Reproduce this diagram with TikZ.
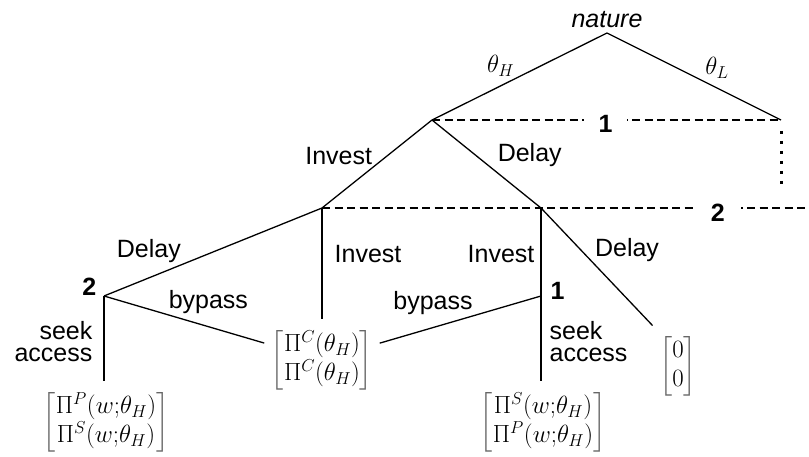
\documentclass[tikz,border=0pt]{standalone}
\usepackage{amsmath}
\usepackage[no-math]{fontspec}
\setmainfont{Liberation Sans}
\usepackage{tikz}
\usetikzlibrary{positioning}

\newcommand{\payoff}[2]{$\color{black!60}\left[\color{black}\begin{matrix}#1\\#2\end{matrix}\color{black!60}\right]$}

\begin{document}
\begin{tikzpicture}[x=1pt, y=-1pt, font=\fontsize{25}{22}\selectfont, line width=1.3pt,
		player/.style={font=\fontsize{25}{22}\selectfont\bfseries},
		infoset/.style={line width=2pt, dash pattern=on 8pt off 4.5pt},
		dots/.style={line width=3pt, dash pattern=on 3pt off 7pt, shorten <=11pt},
		pay/.style={font=\fontsize{25}{29}\selectfont, inner xsep=6pt, inner ysep=10pt}]
	\useasboundingbox (0,0) rectangle (809,457);

	% decision nodes
	\node[coordinate, label={[font=\fontsize{25}{22}\selectfont\itshape, inner sep=5pt]above:nature}] (N) at (607,33) {};
	\node[coordinate] (A) at (432,120) {};
	\node[coordinate] (R) at (781,120) {};
	\node[coordinate] (B) at (322,208) {};
	\node[coordinate] (C) at (541,208) {};
	\node[coordinate, label={[player, anchor=base east, inner sep=0pt, xshift=-7pt, yshift=1pt]180:2}] (D) at (104,296) {};
	\node[coordinate, label={[player, anchor=base west, inner sep=0pt, xshift=9pt, yshift=-4pt]0:1}] (E) at (541,296) {};
	\node[coordinate] (Rdots) at (781,184) {};
	\node[coordinate] (Bend) at (809,208) {};

	% payoffs
	\node[pay] (PS) at (106,422) {\payoff{\Pi^P(w{;}\theta_H)}{\Pi^S(w{;}\theta_H)}};
	\node[pay] (CC) at (322,360) {\payoff{\Pi^C(\theta_H)}{\Pi^C(\theta_H)}};
	\node[pay] (SP) at (543,422) {\payoff{\Pi^S(w{;}\theta_H)}{\Pi^P(w{;}\theta_H)}};
	\node[pay] (Z) at (678,366) {\payoff{0}{0}};

	% moves
	\path (N) edge node[pos=.52, anchor=south east, inner sep=1pt] {$\theta_H$} (A);
	\path (N) edge node[pos=.55, anchor=south west, inner sep=2pt] {$\theta_L$} (R);

	\path (A) edge node[pos=.53, anchor=south east, inner sep=1pt] {Invest} (B);
	\path (A) edge node[pos=.57, anchor=south west, inner sep=3pt] {Delay} (C);

	\path (B) edge node[pos=.64, anchor=south east, inner sep=1pt] {Delay} (D);
	\path (B) edge node[pos=.41, anchor=west, inner sep=0pt, xshift=12pt] {Invest} (CC);

	\path (C) edge node[pos=.52, anchor=east, inner sep=0pt, xshift=-6pt] {Invest} (E);
	\path (C) edge node[pos=.47, anchor=south west, inner sep=1pt] {Delay} (Z.north west);

	\path (D) edge node[pos=.4, anchor=south west, inner sep=0pt] {bypass} (CC);
	\path (D) edge node[pos=.53, anchor=east, align=right, inner sep=0pt, xshift=-11pt] {seek\\access} (PS.north -| D);

	\path (E) edge node[pos=.42, anchor=south east, inner sep=0pt] {bypass} (CC);
	\path (E) edge node[pos=.53, anchor=west, align=left, inner sep=0pt, xshift=8pt] {seek\\access} (SP.north -| E);

	% information sets
	\path (A) edge[infoset] node[player, pos=.497, fill=white, inner xsep=15pt, inner ysep=0pt, anchor=base, yshift=-13pt] {1} (R);
	\path (R) edge[dots] (Rdots);
	\path (B) edge[infoset] node[player, pos=.813, fill=white, inner xsep=16pt, inner ysep=0pt, anchor=base, yshift=-14pt] {2} (Bend);
\end{tikzpicture}
\end{document}
